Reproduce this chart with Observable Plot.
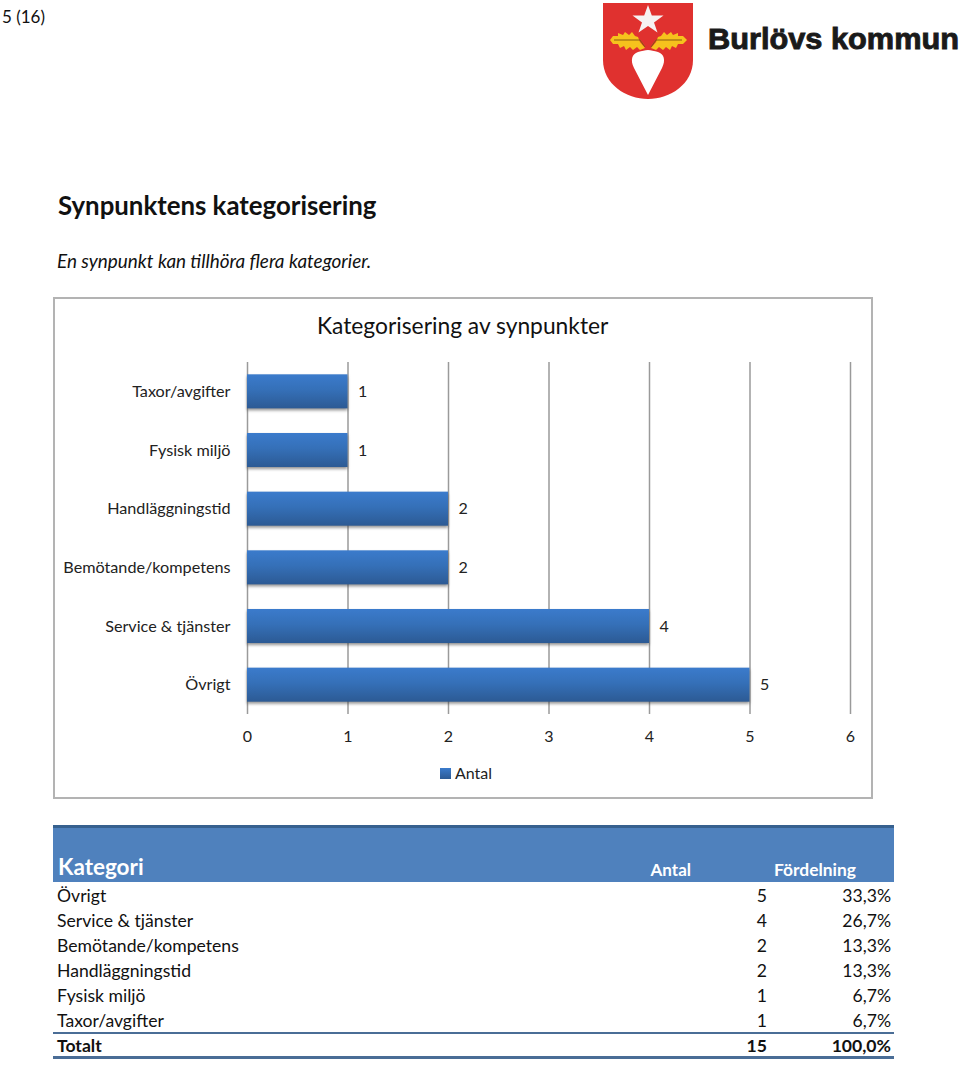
<!DOCTYPE html>
<html lang="sv">
<head>
<meta charset="utf-8">
<script src="https://cdn.jsdelivr.net/npm/d3@7"></script>
<script src="https://cdn.jsdelivr.net/npm/@observablehq/plot@0.6"></script>
<style>
html,body{margin:0;padding:0;background:#fff;width:960px;height:1067px;overflow:hidden}
body{position:relative;font-family:Lato,"Open Sans",sans-serif;color:#111}
.t{position:absolute;white-space:nowrap;line-height:1}
#chart{position:absolute;left:53px;top:297px;width:816px;height:498px;border:2px solid #b3b3b3;background:#fff}
#chart svg{display:block;position:absolute;left:-2px;top:-2px;overflow:visible;max-width:none!important}
#chart svg text{font-family:Lato,"Open Sans",sans-serif}
.bar{filter:drop-shadow(0 2px 1.5px rgba(60,60,60,.55))}
#head{position:absolute;left:53px;top:825px;width:841px;height:57px;background:#4f81bd;border-top:3px solid #37618f;box-sizing:border-box}
#rule1{position:absolute;left:53px;top:1032px;width:841px;height:2px;background:#4a6d96}
#rule2{position:absolute;left:53px;top:1056px;width:841px;height:3px;background:#4a6d96}
</style>
</head>
<body>
<div id="root"></div>
<script>
const categories = ["Taxor/avgifter","Fysisk miljö","Handläggningstid","Bemötande/kompetens","Service & tjänster","Övrigt"];
const counts = [1,1,2,2,4,5];
const tableCategories = ["Övrigt","Service & tjänster","Bemötande/kompetens","Handläggningstid","Fysisk miljö","Taxor/avgifter"];
const tableCounts = [5,4,2,2,1,1];
const tableShares = ["33,3%","26,7%","13,3%","13,3%","6,7%","6,7%"];
const totalCount = 15;
const totalShare = "100,0%";
const xTicks = [0,1,2,3,4,5,6];

const root = document.getElementById("root");
function add(text, css){
  const d = document.createElement("div");
  d.className = "t";
  d.textContent = text;
  d.style.cssText = css;
  root.appendChild(d);
  return d;
}
// page header
add("5 (16)", "left:2px;top:8px;font-size:17px");
add("Synpunktens kategorisering", "left:58px;top:193px;font-size:25.8px;font-weight:700");
add("En synpunkt kan tillhöra flera kategorier.", "left:57px;top:252px;font-size:18.9px;font-style:italic");

// logo
const logo = document.createElement("div");
logo.innerHTML = `<svg style="position:absolute;left:590px;top:0" width="370" height="105" viewBox="0 0 370 105" role="img">
<path d="M13 3H103V60C103 84 80 99 58 99C36 99 13 84 13 60Z" fill="#e0312f"/>
<path d="M58 5l3.800 10.500 11.700 0-9.500 7 3.500 10-9.500-6.500-9.500 6.500 3.500-10-9.500-7 11.700 0Z" fill="#f6f2f2"/>
<path d="M55 48L50 50 47 47 43 50 40 47 36 50 34 46 30 48 28 44 23 44 20 40 23 36 28 36 28 33 33 35 35 32 39 35 42 32 45 36 48 37 50 42Z" fill="#f6c21d"/>
<path d="M61 48L66 50 69 47 73 50 76 47 80 50 82 46 86 48 88 44 93 44 97 40 93 36 88 36 88 33 83 35 81 32 77 35 74 32 71 36 68 37 66 42Z" fill="#f6c21d"/>
<path d="M24 40H50L55 47M92 40H66L61 47" fill="none" stroke="#8a5a10" stroke-width="1"/>
<path d="M58 95L44 68C40 60 42 54 48 52C52 51 55 50 58 50C61 50 64 51 68 52C74 54 76 60 72 68Z" fill="#fff"/>
<text x="118" y="49" font-family="Liberation Sans,Arial,sans-serif" font-weight="700" font-size="29" fill="#1a1a1a" stroke="#1a1a1a" stroke-width=".9" textLength="251" lengthAdjust="spacingAndGlyphs">Burlövs kommun</text>
</svg>`;
root.appendChild(logo);

// chart
const chart = document.createElement("div");
chart.id = "chart";
root.appendChild(chart);
const rows = categories.map((c,i)=>({category:c,count:counts[i]}));
const grad = () => {
  const defs = d3.create("svg:defs");
  const g = defs.append("linearGradient").attr("id","barGrad").attr("x1",0).attr("x2",0).attr("y1",0).attr("y2",1);
  g.append("stop").attr("offset","0").attr("stop-color","#3b7bcc");
  g.append("stop").attr("offset","0.45").attr("stop-color","#3570b8");
  g.append("stop").attr("offset","1").attr("stop-color","#2c5a94");
  return defs.node();
};
const plot = Plot.plot({
  width: 820,
  height: 502,
  marginLeft: 194,
  marginRight: 23,
  marginTop: 65,
  marginBottom: 85,
  style: {background:"transparent", fontSize:"16px", color:"#222"},
  x: {domain:[0,6], ticks:xTicks, label:null},
  y: {domain:categories, label:null, paddingInner:0.42, paddingOuter:0.21, round:false},
  marks: [
    grad,
    Plot.gridX(xTicks, {stroke:"#9a9a9a", strokeOpacity:1, strokeWidth:1.5}),
    Plot.barX(rows, {x:"count", y:"category", fill:"url(#barGrad)", className:"bar"}),
    Plot.text(rows, {x:"count", y:"category", text:d=>String(d.count), dx:10, textAnchor:"start", fontSize:16, fill:"#222"}),
    Plot.axisY({tickSize:0, tickPadding:17, label:null, fontSize:16.2}),
    Plot.axisX({ticks:xTicks, tickSize:0, tickPadding:16, label:null, fontSize:16, tickFormat:d=>String(d)})
  ]
});
chart.appendChild(plot);
add("Kategorisering av synpunkter", "left:317px;top:314px;font-size:22.8px");
const sw = document.createElement("div");
sw.style.cssText = "position:absolute;left:440px;top:768px;width:11px;height:11px;background:linear-gradient(#3b7bcc,#2c5a94)";
root.appendChild(sw);
add("Antal", "left:455px;top:765px;font-size:16px;color:#222");

// table
const head = document.createElement("div"); head.id = "head"; root.appendChild(head);
add("Kategori", "left:58px;top:856px;font-size:22.5px;font-weight:700;color:#fff");
add("Antal", "right:269px;top:861px;font-size:17px;font-weight:700;color:#fff");
add("Fördelning", "left:774px;top:861px;font-size:17.4px;font-weight:700;color:#fff");
const rowTop = i => 887 + i*25;
tableCategories.forEach((c,i)=>{
  add(c, `left:57px;top:${rowTop(i)}px;font-size:17.6px`);
  add(String(tableCounts[i]), `right:193px;top:${rowTop(i)}px;font-size:17.6px`);
  add(tableShares[i], `right:69px;top:${rowTop(i)}px;font-size:17.6px`);
});
const r1 = document.createElement("div"); r1.id = "rule1"; root.appendChild(r1);
const r2 = document.createElement("div"); r2.id = "rule2"; root.appendChild(r2);
add("Totalt", `left:57px;top:${rowTop(6)}px;font-size:17.6px;font-weight:700`);
add(String(totalCount), `right:193px;top:${rowTop(6)}px;font-size:17.6px;font-weight:700`);
add(totalShare, `right:69px;top:${rowTop(6)}px;font-size:17.6px;font-weight:700`);
</script>
</body>
</html>
